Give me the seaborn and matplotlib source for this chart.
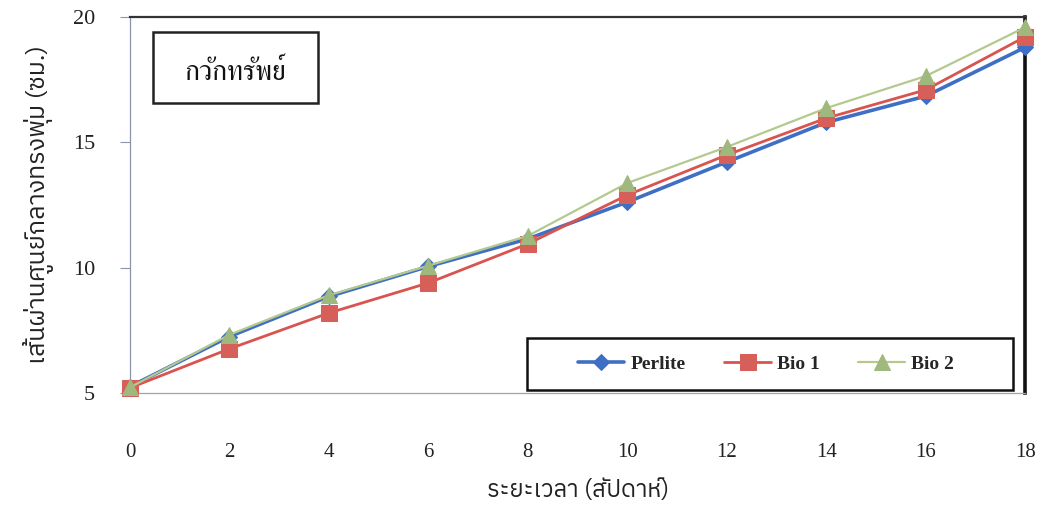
import pandas as pd
import matplotlib
matplotlib.use("Agg")
import matplotlib.pyplot as plt
from matplotlib import font_manager, ft2font
from matplotlib.patches import Rectangle
import seaborn as sns

# data
weeks = [0, 2, 4, 6, 8, 10, 12, 14, 16, 18]
perlite = [5.25, 7.25, 8.85, 10.05, 11.15, 12.62, 14.22, 15.8, 16.85, 18.8]
bio1 = [5.2, 6.76, 8.19, 9.39, 10.95, 12.9, 14.5, 15.97, 17.1, 19.22]
bio2 = [5.22, 7.32, 8.9, 10.08, 11.27, 13.38, 14.82, 16.37, 17.65, 19.6]
series_names = ["Perlite", "Bio 1", "Bio 2"]
y_ticks = [5, 10, 15, 20]
title_text = "กวักทรัพย์"
x_label = "ระยะเวลา (สัปดาห์)"
y_label = "เส้นผ่านศูนย์กลางทรงพุ่ม (ซม.)"


# installed fonts that have Thai glyphs
def thai_fonts():
    found = set()
    for f in font_manager.fontManager.ttflist:
        try:
            cmap = ft2font.FT2Font(f.fname).get_charmap()
        except Exception:
            continue
        if 0x0E01 in cmap and 0x0E31 in cmap and 0x0E4C in cmap:
            found.add(f.name)
    return sorted(found)


sns.set_style("white")
found = thai_fonts()
plain = sorted(found, key=lambda n: (0 if "Thai" in n and "Looped" not in n else 1, n))
looped = sorted(found, key=lambda n: (0 if ("Looped" in n or "Serif" in n or "Norasi" in n) else 1, n))
label_family = ([plain[0]] if plain else []) + ["DejaVu Sans"]
title_family = ([looped[0]] if looped else []) + ["DejaVu Sans"]
plt.rcParams["font.family"] = ["Liberation Serif", "DejaVu Serif"]

df = pd.DataFrame({
    "week": weeks * 3,
    "value": perlite + bio1 + bio2,
    "series": [series_names[0]] * len(weeks) + [series_names[1]] * len(weeks) + [series_names[2]] * len(weeks),
})

colors = {"Perlite": "#3f6fc4", "Bio 1": "#d9534f", "Bio 2": "#b4c98e"}
mcolors = {"Perlite": "#3f6fc4", "Bio 1": "#d65f5a", "Bio 2": "#9fb87e"}
markers = {"Perlite": "D", "Bio 1": "s", "Bio 2": "^"}
msizes = {"Perlite": 8, "Bio 1": 11, "Bio 2": 11}
lwidths = {"Perlite": 2.6, "Bio 1": 2.0, "Bio 2": 1.6}

fig = plt.figure(figsize=(10.43, 5.05), dpi=100)
ax = fig.add_axes([0.1246, 0.222, 0.8585, 0.744])

for name in series_names:
    sub = df[df["series"] == name]
    sns.lineplot(data=sub, x="week", y="value", ax=ax, color=colors[name],
                 marker=markers[name], markersize=msizes[name],
                 markerfacecolor=mcolors[name], markeredgecolor=mcolors[name],
                 linewidth=lwidths[name], label=name, clip_on=False, zorder=3)

ax.set_xlim(0, 18)
ax.set_ylim(5, 20)
ax.set_xticks(weeks)
ax.set_yticks(y_ticks)
ax.tick_params(axis="x", length=0, pad=36, labelsize=15, colors="#222222")
ax.tick_params(axis="y", left=True, length=7, width=0.8, color="#8a94a8",
               pad=18, labelsize=16, labelcolor="#222222")

ax.set_xlabel(x_label, family=label_family, fontsize=17, color="#222222", labelpad=12)
ax.set_ylabel(y_label, family=label_family, fontsize=18, color="#222222", labelpad=14)

for side, lw, col in [("top", 1.6, "#333333"), ("right", 2.6, "#111111"),
                      ("left", 0.9, "#8a94a8"), ("bottom", 0.9, "#a0a4b0")]:
    ax.spines[side].set_visible(True)
    ax.spines[side].set_linewidth(lw)
    ax.spines[side].set_color(col)

# title box in upper-left
ax.add_patch(Rectangle((0.0257, 0.771), 0.184, 0.189, transform=ax.transAxes,
                       fill=False, edgecolor="#222222", linewidth=1.8, zorder=4))
ax.text(0.118, 0.852, title_text, transform=ax.transAxes, ha="center", va="center",
        family=title_family, fontsize=20, color="#111111")

# legend box drawn as its own frame, entries centred inside
ax.add_patch(Rectangle((0.4436, 0.008), 0.543, 0.138, transform=ax.transAxes,
                       fill=False, edgecolor="#111111", linewidth=1.8, zorder=4))
ax.legend(loc="center", bbox_to_anchor=(0.71, 0.077), ncol=3, frameon=False,
          handlelength=2.4, handletextpad=0.3, columnspacing=2.0,
          prop={"size": 14, "weight": "bold"})

fig.savefig("out.png", dpi=100, facecolor="white")
